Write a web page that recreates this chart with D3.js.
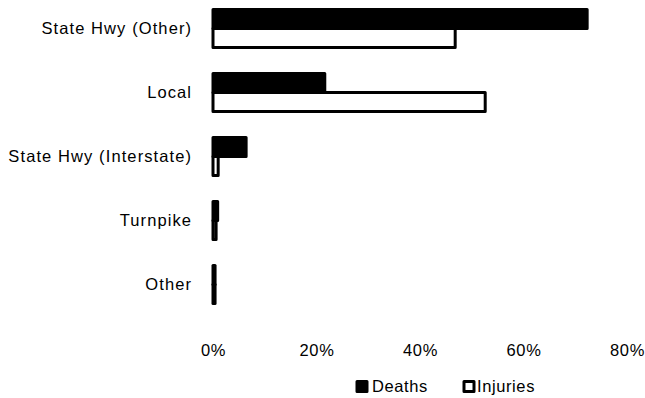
<!DOCTYPE html>
<html><head><meta charset="utf-8">
<script src="https://cdn.jsdelivr.net/npm/d3@7"></script>
<style>body{margin:0;background:#fff}svg{display:block}text{font-family:"Liberation Sans",Arial,sans-serif;fill:#000}</style>
</head><body><svg id="c" width="645" height="398"></svg>
<script>
const categories = ["State Hwy (Other)", "Local", "State Hwy (Interstate)", "Turnpike", "Other"];
const series = ["Deaths", "Injuries"];
const deaths = [72.3, 21.6, 6.4, 0.9, 0.4];
const injuries = [46.8, 52.6, 1.0, 0.6, 0.4];
const xTicks = [0, 20, 40, 60, 80];

const svg = d3.select("#c");
const x = d3.scaleLinear().domain([0, 80]).range([213, 627]);
const y = d3.scaleBand().domain(categories).range([-3.5, 316.5]).paddingInner(0.40625).paddingOuter(0.203125);
const ys = d3.scaleBand().domain(series).range([0, y.bandwidth()]);
const fills = {Deaths: "#000", Injuries: "#fff"};
const vals = {Deaths: deaths, Injuries: injuries};

const g = svg.append("g");
series.forEach(s => {
  g.selectAll(null).data(categories).enter().append("rect")
    .attr("x", x(0))
    .attr("y", (c) => y(c) + ys(s))
    .attr("width", (c, i) => x(vals[s][i]) - x(0))
    .attr("height", ys.bandwidth())
    .attr("fill", fills[s]).attr("stroke", "#000").attr("stroke-width", 3)
    .attr("stroke-linejoin", "round");
});

const yAxis = d3.axisLeft(y).tickSize(0).tickPadding(22);
const ya = svg.append("g").attr("transform", `translate(${x(0)},0)`).call(yAxis);
ya.select(".domain").remove();
ya.selectAll("text").style("font-size", "16.5px").style("letter-spacing", "1.1px").attr("dx", "1.1px").attr("fill", "#000");

const xAxis = d3.axisBottom(x).tickValues(xTicks).tickFormat(d => d + "%").tickSize(0).tickPadding(0);
const xa = svg.append("g").attr("transform", `translate(0,344.5)`).call(xAxis);
xa.select(".domain").remove();
xa.selectAll("text").style("font-size", "16.5px").style("letter-spacing", "0.6px").attr("fill", "#000");

const legend = svg.append("g");
const lx = [357, 464];
const tx = [372, 477];
series.forEach((s, i) => {
  legend.append("rect").attr("x", lx[i]).attr("y", 381.5).attr("width", 10).attr("height", 10)
    .attr("fill", fills[s]).attr("stroke", "#000").attr("stroke-width", 3).attr("stroke-linejoin", "round");
  legend.append("text").attr("x", tx[i]).attr("y", 392).style("font-size", "16.5px").style("letter-spacing", "0.6px").text(s);
});
</script></body></html>
